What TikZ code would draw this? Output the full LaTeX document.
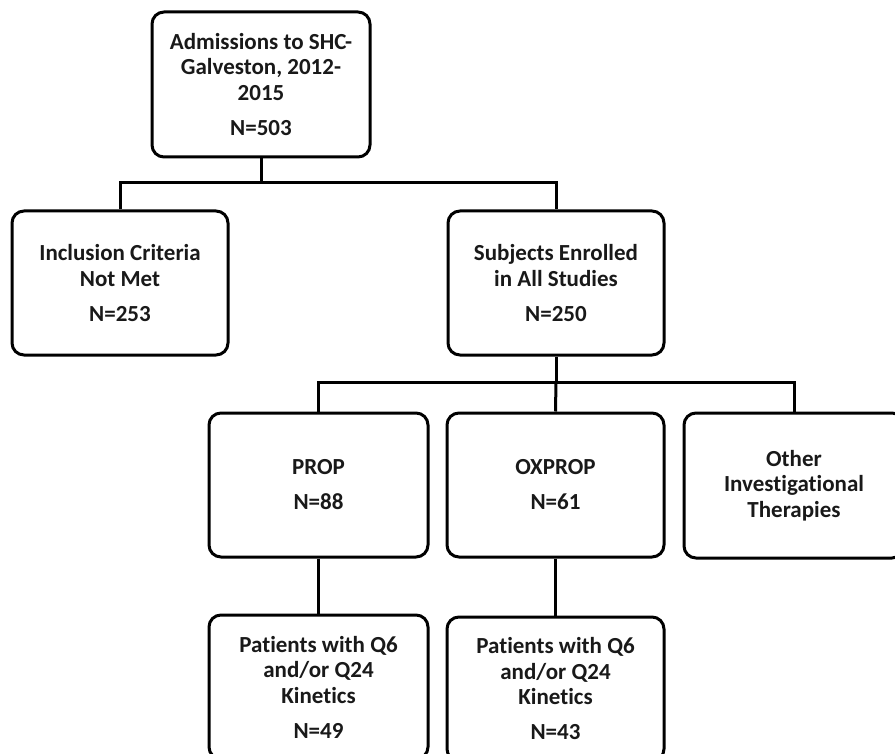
\documentclass[tikz,border=0pt]{standalone}
\usepackage{fontspec}
\setmainfont{Carlito}[Ligatures=NoCommon]
\begin{document}
\begin{tikzpicture}[x=1pt,y=-1pt,
  box/.style={draw=black, line width=3pt, rounded corners=12pt, fill=white,
    align=center, inner sep=0pt, text=black!90,
    font=\bfseries\fontsize{23}{25.5}\selectfont},
  link/.style={draw=black, line width=3pt}]
\useasboundingbox (0,0) rectangle (895,754);
\clip (0,0) rectangle (895,754);
\node[box, minimum width=218pt, minimum height=145pt] (top) at (261,84.5)
  {Admissions to SHC-\\Galveston, 2012-\\2015\\[9.5pt]N=503};
\node[box, minimum width=216pt, minimum height=144pt] (incl) at (120,283)
  {Inclusion Criteria\\Not Met\\[9.5pt]N=253};
\node[box, minimum width=216pt, minimum height=144pt] (subj) at (556,283)
  {Subjects Enrolled\\in All Studies\\[9.5pt]N=250};
\node[box, minimum width=219pt, minimum height=144pt] (prop) at (318.5,485)
  {PROP\\[9.5pt]N=88};
\node[box, minimum width=217pt, minimum height=144pt] (oxprop) at (555.5,485)
  {OXPROP\\[9.5pt]N=61};
\node[box, minimum width=220pt, minimum height=145pt] (other) at (794,485.5)
  {Other\\Investigational\\Therapies};
\node[box, minimum width=219pt, minimum height=144pt] (kinA) at (318.5,687)
  {Patients with Q6\\and/or Q24\\Kinetics\\[9.5pt]N=49};
\node[box, minimum width=217pt, minimum height=144pt] (kinB) at (555.5,689)
  {Patients with Q6\\and/or Q24\\Kinetics\\[9.5pt]N=43};
\coordinate (j1) at (261,183);
\coordinate (j2) at (556,382);
\draw[link] (top.south) -- (j1);
\draw[link] (incl.north) |- (j1) -| (subj.north);
\draw[link] (subj.south) -- (j2);
\draw[link] (prop.north) |- (j2) -| (other.north);
\draw[link] (j2) -- (oxprop.north);
\draw[link] (prop.south) -- (kinA.north);
\draw[link] (oxprop.south) -- (kinB.north);
\end{tikzpicture}
\end{document}
